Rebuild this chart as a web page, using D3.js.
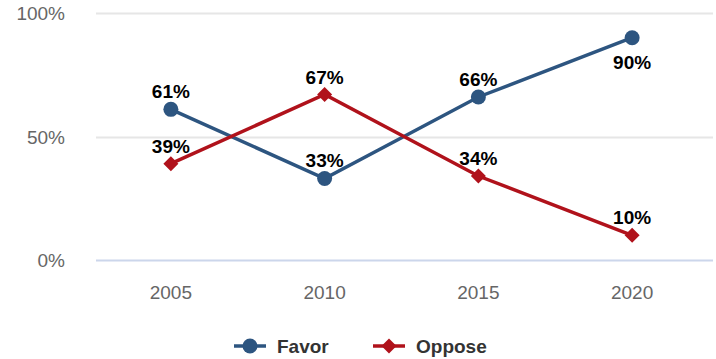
<!DOCTYPE html>
<html>
<head>
<meta charset="utf-8">
<script src="https://cdn.jsdelivr.net/npm/d3@7"></script>
<style>
  body { margin: 0; background: #fff; }
  svg { font-family: "Liberation Sans", Arial, sans-serif; }
</style>
</head>
<body>
<svg id="chart" width="716" height="359"></svg>
<script>
// data
const years = ["2005", "2010", "2015", "2020"];
const favor = [61, 33, 66, 90];
const oppose = [39, 67, 34, 10];
const yTicks = [0, 50, 100];
// label goes below the point for these (series, index)
const favorBelow = [false, false, false, true];

const svg = d3.select("#chart");
const margin = { left: 94, right: 7, top: 13, bottom: 99 };
const W = 716, H = 359;

const x = d3.scaleBand()
    .domain(years)
    .range([margin.left, W - margin.right]);

const y = d3.scaleLinear()
    .domain([0, 100])
    .range([H - margin.bottom, margin.top]);

const cx = d => x(d) + x.bandwidth() / 2;

// gridlines
svg.append("g")
    .selectAll("line")
    .data(yTicks)
    .enter()
    .append("line")
    .attr("x1", 96)
    .attr("x2", 713)
    .attr("y1", d => Math.round(y(d)) + 0.5)
    .attr("y2", d => Math.round(y(d)) + 0.5)
    .attr("stroke", d => d === 0 ? "#ccd6eb" : "#e6e6e6")
    .attr("stroke-width", 2);

// y axis labels
svg.append("g")
    .selectAll("text")
    .data(yTicks)
    .enter()
    .append("text")
    .attr("x", 65)
    .attr("y", d => y(d) + 7)
    .attr("text-anchor", "end")
    .attr("font-size", 19)
    .attr("fill", "#666")
    .text(d => d + "%");

// x axis labels
svg.append("g")
    .selectAll("text")
    .data(years)
    .enter()
    .append("text")
    .attr("x", d => cx(d))
    .attr("y", 299)
    .attr("text-anchor", "middle")
    .attr("font-size", 19)
    .attr("fill", "#666")
    .text(d => d);

const series = [
    { name: "Favor", values: favor, color: "#2d5580", shape: "circle" },
    { name: "Oppose", values: oppose, color: "#b0121b", shape: "diamond" }
];

const line = d3.line()
    .x(d => cx(d.year))
    .y(d => y(d.v));

function drawMarker(g, shape, color, px, py) {
    if (shape === "circle") {
        g.append("circle")
            .attr("cx", px).attr("cy", py).attr("r", 7.5)
            .attr("fill", color);
    } else {
        const r = 7.5;
        g.append("path")
            .attr("d", `M${px},${py - r}L${px + r},${py}L${px},${py + r}L${px - r},${py}Z`)
            .attr("fill", color);
    }
}

series.forEach(s => {
    const pts = years.map((yr, i) => ({ year: yr, v: s.values[i] }));
    const g = svg.append("g");
    g.append("path")
        .datum(pts)
        .attr("d", line)
        .attr("fill", "none")
        .attr("stroke", s.color)
        .attr("stroke-width", 3.5);
    pts.forEach(p => drawMarker(g, s.shape, s.color, cx(p.year), y(p.v)));
});

// data labels
series.forEach(s => {
    svg.append("g")
        .selectAll("text")
        .data(s.values)
        .enter()
        .append("text")
        .attr("x", (d, i) => cx(years[i]))
        .attr("y", (d, i) => (s.name === "Favor" && favorBelow[i]) ? y(d) + 31 : y(d) - 11)
        .attr("text-anchor", "middle")
        .attr("font-size", 19)
        .attr("font-weight", "bold")
        .attr("fill", "#000")
        .text(d => d + "%");
});

// legend
const legendX = [234, 373];
series.forEach((s, i) => {
    const g = svg.append("g");
    const lx = legendX[i], ly = 346;
    g.append("line")
        .attr("x1", lx).attr("x2", lx + 32)
        .attr("y1", ly).attr("y2", ly)
        .attr("stroke", s.color)
        .attr("stroke-width", 3.5);
    drawMarker(g, s.shape, s.color, lx + 16, ly);
    g.append("text")
        .attr("x", lx + 43)
        .attr("y", ly + 7)
        .attr("font-size", 19)
        .attr("font-weight", "bold")
        .attr("fill", "#333")
        .text(s.name);
});
</script>
</body>
</html>
